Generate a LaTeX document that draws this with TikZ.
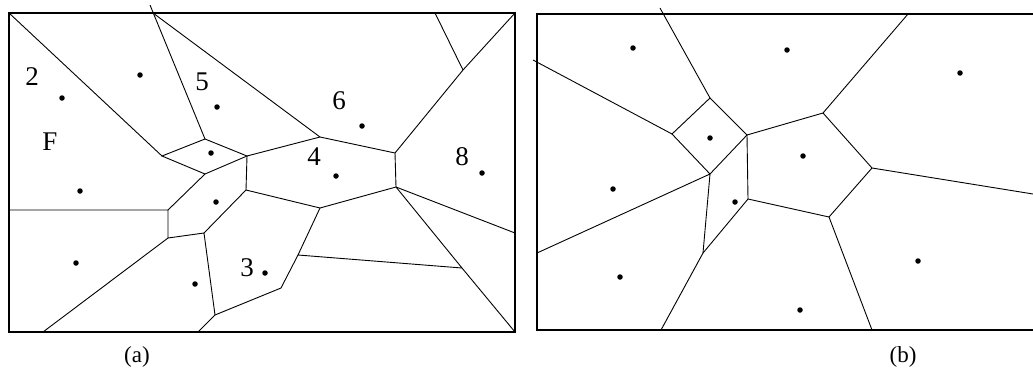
\documentclass[tikz,border=0pt]{standalone}
\usepackage{fontspec}
\setmainfont{Liberation Serif}
\tikzset{
      frame/.style   = {line width=1.4pt},          % outer box
      edge/.style    = {line width=0.9pt},          % cell borders
      site/.style    = {circle, fill, inner sep=0pt, minimum size=5.5pt},
      cellnum/.style = {font=\fontsize{27}{27}\selectfont},
      caption/.style = {font=\fontsize{23}{23}\selectfont}
    }
\begin{document}
\begin{tikzpicture}[x=1pt, y=-1pt]
  \useasboundingbox (0,0) rectangle (1033,370);
  % ---------------- (a) ----------------
  % Frame
  \draw[frame] (9,13) rectangle (515,332);
  % Cell vertices
  \coordinate (a1) at (162,156);
  \coordinate (a2) at (205,139);
  \coordinate (a3) at (247,156);
  \coordinate (a4) at (205,174);
  \coordinate (a5) at (320,137);
  \coordinate (a6) at (395,153);
  \coordinate (a7) at (463,70);
  \coordinate (a8) at (396,187);
  \coordinate (a9) at (462,268);
  \coordinate (a10) at (320,208);
  \coordinate (a11) at (298,255);
  \coordinate (a12) at (281,288);
  \coordinate (a13) at (215,315);
  \coordinate (a14) at (204,233);
  \coordinate (a15) at (168,238);
  \coordinate (a16) at (168,210);
  \coordinate (a17) at (246,190);
  % Ends on the frame
  \coordinate (ta1) at (9,13);
  \coordinate (ta2) at (150,5);
  \coordinate (ta3) at (153,13);
  \coordinate (ta4) at (435,13);
  \coordinate (ta5) at (515,13);
  \coordinate (ra1) at (515,233);
  \coordinate (ra2) at (515,332);
  \coordinate (ba1) at (198,332);
  \coordinate (ba2) at (43,332);
  \coordinate (la1) at (9,210);
  % Cell borders
  \draw[edge] (ta1) -- (a1);
  \draw[edge] (a1) -- (a2) -- (a3) -- (a4) -- cycle;
  \draw[edge] (a2) -- (ta2);
  \draw[edge] (ta3) -- (a5);
  \draw[edge] (a3) -- (a5) -- (a6) -- (a7) -- (ta5);
  \draw[edge] (a7) -- (ta4);
  \draw[edge] (a6) -- (a8) -- (ra1);
  \draw[edge] (a8) -- (a9) -- (ra2);
  \draw[edge] (a8) -- (a10) -- (a17) -- (a3);
  \draw[edge] (a10) -- (a11) -- (a9);
  \draw[edge] (a11) -- (a12) -- (a13) -- (ba1);
  \draw[edge] (a13) -- (a14) -- (a15) -- (a16) -- (la1);
  \draw[edge] (a16) -- (a4);
  \draw[edge] (a17) -- (a14);
  \draw[edge] (a15) -- (ba2);
  % Sites
  \node[site] (sa1) at (62,98) {};
  \node[site] (sa2) at (140,75) {};
  \node[site] (sa3) at (217,107) {};
  \node[site] (sa4) at (211,153) {};
  \node[site] (sa5) at (362,126) {};
  \node[site] (sa6) at (336,176) {};
  \node[site] (sa7) at (482,173) {};
  \node[site] (sa8) at (80,191) {};
  \node[site] (sa9) at (216,202) {};
  \node[site] (sa10) at (76,263) {};
  \node[site] (sa11) at (195,284) {};
  \node[site] (sa12) at (265,273) {};
  % Cell numbers
  \node[cellnum] (n2) at (32,77) {2};
  \node[cellnum] (n5) at (202,82) {5};
  \node[cellnum] (nF) at (50,142) {F};
  \node[cellnum] (n6) at (339,101) {6};
  \node[cellnum] (n4) at (314,157) {4};
  \node[cellnum] (n8) at (462,157) {8};
  \node[cellnum] (n3) at (247,268) {3};
  \node[caption] (capa) at (137,357) {(a)};
  % ---------------- (b) ----------------
  % Frame
  \draw[frame] (1033,14) -- (537,14) -- (537,330) -- (1033,330);
  % Cell vertices
  \coordinate (b1) at (672,134);
  \coordinate (b2) at (710,98);
  \coordinate (b3) at (747,135);
  \coordinate (b4) at (710,174);
  \coordinate (b5) at (823,113);
  \coordinate (b6) at (872,168);
  \coordinate (b7) at (829,217);
  \coordinate (b8) at (748,199);
  \coordinate (b9) at (703,253);
  % Ends on the frame
  \coordinate (lb1) at (533,60);
  \coordinate (lb2) at (537,253);
  \coordinate (tb1) at (660,8);
  \coordinate (tb2) at (908,14);
  \coordinate (rb1) at (1033,194);
  \coordinate (bb1) at (872,330);
  \coordinate (bb2) at (661,330);
  % Cell borders
  \draw[edge] (lb1) -- (b1);
  \draw[edge] (b1) -- (b2) -- (b3) -- (b4) -- cycle;
  \draw[edge] (b2) -- (tb1);
  \draw[edge] (b3) -- (b5) -- (tb2);
  \draw[edge] (b5) -- (b6) -- (rb1);
  \draw[edge] (b6) -- (b7) -- (bb1);
  \draw[edge] (b7) -- (b8) -- (b3);
  \draw[edge] (b8) -- (b9) -- (bb2);
  \draw[edge] (b9) -- (b4) -- (lb2);
  % Sites
  \node[site] (sb1) at (633,48) {};
  \node[site] (sb2) at (787,50) {};
  \node[site] (sb3) at (960,73) {};
  \node[site] (sb4) at (710,138) {};
  \node[site] (sb5) at (803,156) {};
  \node[site] (sb6) at (613,189) {};
  \node[site] (sb7) at (735,202) {};
  \node[site] (sb8) at (620,277) {};
  \node[site] (sb9) at (918,261) {};
  \node[site] (sb10) at (800,310) {};
  \node[caption] (capb) at (903,357) {(b)};
\end{tikzpicture}
\end{document}
